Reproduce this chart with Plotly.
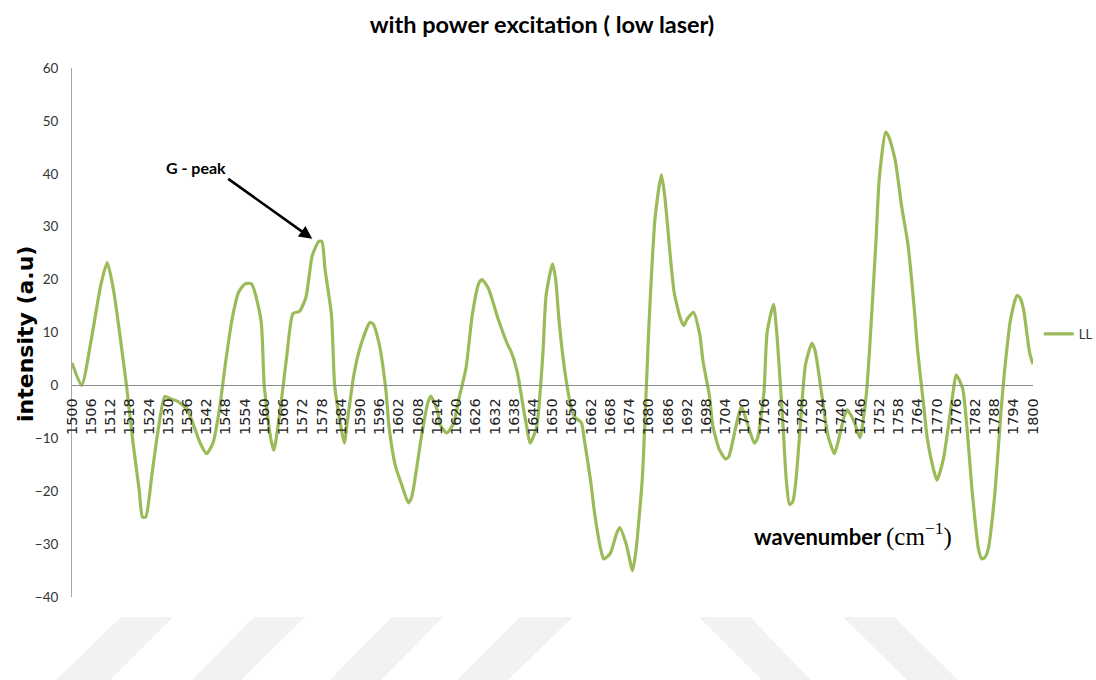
import plotly.graph_objects as go

# Raman difference spectrum, low-laser excitation (series "LL")
wavenumber = [
    1500, 1503, 1506, 1509, 1511, 1513, 1515, 1517, 1519, 1521, 1522, 1523, 1525, 1527, 1529,
    1531, 1533, 1536, 1538, 1540, 1542, 1544, 1546, 1548, 1550, 1552, 1554, 1556, 1559, 1560,
    1562, 1563, 1565, 1567, 1569, 1571, 1573, 1575, 1577, 1578, 1579, 1581, 1582, 1584, 1585,
    1586, 1588, 1590, 1593, 1594, 1596, 1598, 1599, 1601, 1603, 1605, 1606, 1608, 1609, 1611,
    1612, 1614, 1615, 1617, 1619, 1621, 1623, 1625, 1627, 1628, 1630, 1633, 1636, 1637, 1639,
    1641, 1642, 1643, 1645, 1647, 1648, 1650, 1651, 1652, 1654, 1656, 1657, 1659, 1660, 1662,
    1663, 1665, 1666, 1668, 1670, 1671, 1673, 1675, 1676, 1678, 1679, 1680, 1681, 1682, 1684,
    1685, 1687, 1688, 1690, 1691, 1692, 1694, 1696, 1697, 1699, 1700, 1702, 1704, 1705, 1706,
    1708, 1709, 1711, 1713, 1714, 1716, 1717, 1719, 1720, 1722, 1723, 1724, 1725, 1726, 1727,
    1729, 1731, 1732, 1734, 1736, 1738, 1739, 1741, 1742, 1744, 1746, 1747, 1748, 1749, 1751,
    1752, 1754, 1755, 1757, 1759, 1761, 1763, 1764, 1766, 1767, 1769, 1770, 1772, 1775, 1776,
    1778, 1780, 1781, 1783, 1784, 1785, 1786, 1788, 1790, 1791, 1793, 1795, 1796, 1797, 1799,
    1800,
]
intensity_ll = [
    4.3, 0.0, 8.6, 19.0, 23.2, 17.9, 9.3, 0.0, -10.6, -19.9, -24.9, -24.9, -16.6, -8.0, -2.1,
    -2.6, -3.0, -4.6, -7.6, -10.9, -12.9, -10.9, -4.6, 4.6, 12.6, 17.6, 19.2, 19.2, 12.3, 0.0,
    -9.9, -12.3, -4.6, 5.3, 13.6, 14.0, 16.6, 24.5, 27.2, 27.2, 21.9, 13.3, 0.0, -8.0, -10.9,
    -6.6, 2.0, 7.3, 11.9, 11.6, 7.5, -1.0, -8.0, -15.3, -18.9, -22.2, -21.2, -14.0, -10.0, -3.5,
    -2.0, -4.6, -7.5, -9.0, -7.3, -2.0, 3.3, 13.5, 19.3, 20.0, 18.3, 12.6, 7.7, 6.5, 2.5,
    -4.6, -8.0, -10.9, -8.0, 6.0, 17.0, 23.0, 20.0, 12.5, 2.0, -4.6, -6.0, -7.0, -10.5, -18.5,
    -23.5, -30.8, -32.8, -31.8, -28.0, -26.9, -30.0, -35.0, -31.5, -17.9, -4.6, 10.0, 22.0, 31.5, 39.8,
    36.0, 23.0, 17.5, 12.5, 11.3, 12.5, 13.8, 9.5, 4.5, -2.0, -7.5, -12.0, -13.9, -13.5, -11.3,
    -5.8, -4.0, -7.5, -10.9, -10.0, -1.3, 10.0, 15.3, 10.0, -8.0, -18.0, -22.5, -22.0, -17.9, -10.5,
    4.0, 8.0, 6.5, -1.5, -9.5, -12.9, -11.0, -6.0, -4.6, -6.6, -9.9, -6.5, -1.5, 7.0, 27.5,
    39.0, 47.9, 47.0, 42.5, 33.8, 26.5, 14.0, 6.5, -4.5, -10.0, -16.0, -17.9, -14.0, -1.5, 2.0,
    -0.5, -12.5, -20.0, -31.0, -32.8, -32.5, -31.0, -21.0, -5.0, 2.0, 12.5, 17.0, 16.5, 14.5, 6.0,
    4.0,
]

x_tick_values = list(range(1500, 1801, 6))
x_tick_labels = [str(v) for v in x_tick_values]
y_tick_values = [-40, -30, -20, -10, 0, 10, 20, 30, 40, 50, 60]

# G band maximum marked with an arrow
g_peak_x, g_peak_y = 1575, 27.7

W, H = 1096, 680
M_L, M_R, M_T, M_B = 72, 63, 68, 83
PLOT_W = W - M_L - M_R
PLOT_H = H - M_T - M_B


def px_to_paper(px, py):
    return (px - M_L) / PLOT_W, (H - M_B - py) / PLOT_H


fig = go.Figure()
fig.add_trace(go.Scatter(
    x=wavenumber,
    y=intensity_ll,
    mode="lines",
    name="LL",
    line=dict(color="#9BBB59", width=3.2, shape="spline", smoothing=0.6),
))

# light diagonal stripes along the bottom edge
stripes = [
    ((121, 173), (56, 110)),
    ((254, 305), (192, 241)),
    ((392, 443), (330, 381)),
    ((520, 573), (457, 508)),
    ((699, 750), (762, 811)),
    ((843, 894), (907, 958)),
]
shapes = []
y_top, y_bot = 617, 680
for (t0, t1), (b0, b1) in stripes:
    pts = [px_to_paper(t0, y_top), px_to_paper(t1, y_top),
           px_to_paper(b1, y_bot), px_to_paper(b0, y_bot)]
    path = "M{} {} L{} {} L{} {} L{} {} Z".format(*[c for p in pts for c in p])
    shapes.append(dict(type="path", xref="paper", yref="paper", path=path,
                       fillcolor="#F2F2F2", line=dict(width=0), layer="below"))

annotations = []
# y-axis title
yx, yy = px_to_paper(25, 334)
annotations.append(dict(
    text="intensity (a.u)", xref="paper", yref="paper", x=yx, y=yy,
    showarrow=False, textangle=-90, xanchor="center", yanchor="middle",
    font=dict(family="DejaVu Sans", size=22, color="#000000", weight="bold"),
))
# x-axis title
xx, xy = px_to_paper(853, 534)
annotations.append(dict(
    text="wavenumber <span style='font-family:Liberation Serif;font-weight:normal;font-size:25px'>(cm<sup>−1</sup>)</span>",
    xref="paper", yref="paper", x=xx, y=xy, showarrow=False,
    xanchor="center", yanchor="middle",
    font=dict(family="Lato", size=22, color="#000000", weight="bold"),
))
# G-peak label with its pointer; the text box sits at the arrow tail
annotations.append(dict(
    text="G - peak", x=g_peak_x, y=g_peak_y, xref="x", yref="y",
    showarrow=True, arrowhead=2, arrowsize=1, arrowwidth=2.6, arrowcolor="#000000",
    ax=-84, ay=-60, axref="pixel", ayref="pixel",
    xanchor="right", yanchor="bottom",
    font=dict(family="Lato", size=16, color="#000000", weight="bold"),
))

fig.update_layout(
    width=W, height=H,
    margin=dict(l=M_L, r=M_R, t=M_T, b=M_B, autoexpand=False),
    paper_bgcolor="#FFFFFF",
    plot_bgcolor="#FFFFFF",
    title=dict(
        text="with power excitation ( low laser)",
        x=542 / W, xref="container", xanchor="center",
        y=1 - 25 / H, yref="container", yanchor="middle",
        font=dict(family="Lato", size=23.5, color="#000000", weight="bold"),
    ),
    showlegend=True,
    legend=dict(
        x=1.006, y=px_to_paper(0, 334)[1], xanchor="left", yanchor="middle",
        bgcolor="rgba(0,0,0,0)", borderwidth=0,
        font=dict(family="Lato", size=13, color="#333333"),
    ),
    xaxis=dict(
        range=[1500, 1800],
        anchor="free", position=0.4,
        tickmode="array", tickvals=x_tick_values, ticktext=x_tick_labels,
        tickangle=-90, ticks="", ticklabelstandoff=6,
        tickfont=dict(family="DejaVu Sans", size=14.5, color="#222222"),
        showgrid=False, zeroline=False,
        showline=True, linecolor="#8C8C8C", linewidth=1,
        automargin=False,
    ),
    yaxis=dict(
        range=[-40, 60],
        tickmode="array", tickvals=y_tick_values,
        ticks="", ticklabelstandoff=10,
        tickfont=dict(family="Lato", size=13.5, color="#333333"),
        showgrid=False, zeroline=False,
        showline=True, linecolor="#A6A6A6", linewidth=1,
        automargin=False,
    ),
    shapes=shapes,
    annotations=annotations,
)

fig.write_html("out.html")
